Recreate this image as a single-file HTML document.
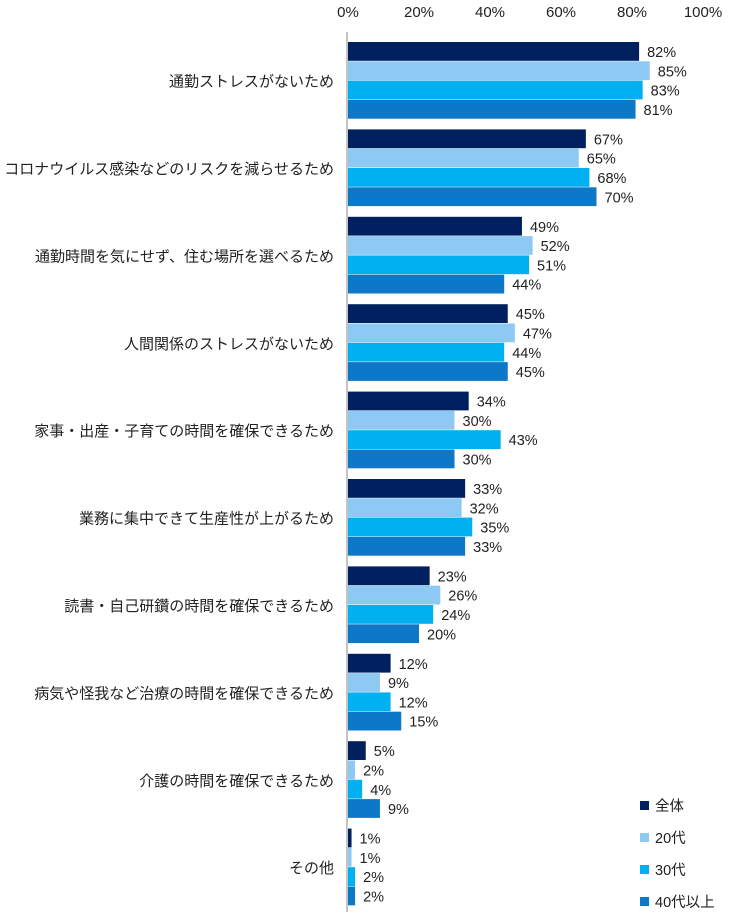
<!DOCTYPE html>
<html><head><meta charset="utf-8">
<style>
body{margin:0;background:#fff;}
svg{display:block;font-family:"Liberation Sans","Noto Sans CJK JP",sans-serif;}
</style></head>
<body>
<svg id="chart" width="736" height="917" xmlns="http://www.w3.org/2000/svg"></svg>
<script>
const categories=["通勤ストレスがないため","コロナウイルス感染などのリスクを減らせるため","通勤時間を気にせず、住む場所を選べるため","人間関係のストレスがないため","家事・出産・子育ての時間を確保できるため","業務に集中できて生産性が上がるため","読書・自己研鑽の時間を確保できるため","病気や怪我など治療の時間を確保できるため","介護の時間を確保できるため","その他"];
const seriesNames=["全体","20代","30代","40代以上"];
const valsAll=[82,67,49,45,34,33,23,12,5,1];
const vals20=[85,65,52,47,30,32,26,9,2,1];
const vals30=[83,68,51,44,43,35,24,12,4,2];
const vals40=[81,70,44,45,30,33,20,15,9,2];
const ticks=[0,20,40,60,80,100];
const colors=["#002060","#8EC9F4","#00B0F0","#0E78C8"];
const series=[valsAll,vals20,vals30,vals40];
const svg=document.getElementById('chart');
const NS="http://www.w3.org/2000/svg";
const x0=348,x1=703,yTop=42,groupH=87.4,barH=19.3;
const xs=v=>x0+(x1-x0)*v/100;
function mk(t,a){const e=document.createElementNS(NS,t);for(const k in a)e.setAttribute(k,a[k]);svg.appendChild(e);return e;}
ticks.forEach(t=>{const e=mk('text',{x:xs(t),y:17,'text-anchor':'middle','font-size':15,fill:'#222'});e.textContent=t+'%';

});
categories.forEach((c,i)=>{
  const g0=yTop+i*groupH;
  const l=mk('text',{x:334,y:g0+2*barH+6,'text-anchor':'end','font-size':15,fill:'#222'});l.textContent=c;
  
  
  series.forEach((s,j)=>{
    const y=g0+j*barH;
    const r=mk('rect',{x:x0,y:y,width:xs(s[i])-x0,height:barH-0.5,fill:colors[j]});
    
    
    const t=mk('text',{x:xs(s[i])+8,y:y+15,'font-size':14.5,fill:'#222'});t.textContent=s[i]+'%';
    
    
  });
});
const ax=mk('line',{x1:347,y1:32,x2:347,y2:912,stroke:'#888','stroke-width':1});


seriesNames.forEach((n,j)=>{
  const y=806+j*32;
  const r=mk('rect',{x:640,y:y-5,width:9,height:9,fill:colors[j]});
  
  
  const t=mk('text',{x:655,y:y+5,'font-size':14.5,fill:'#222'});t.textContent=n;
  
  
});
</script>
</body></html>
